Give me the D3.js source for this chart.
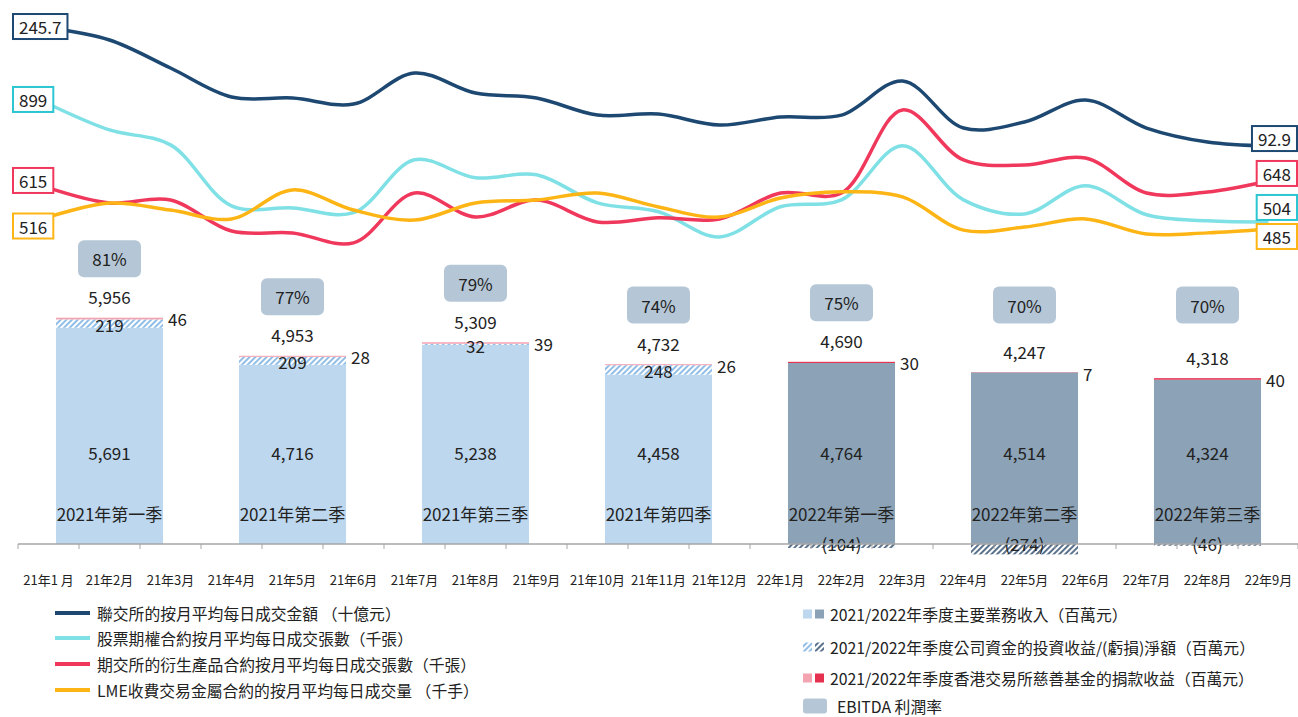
<!DOCTYPE html>
<html>
<head>
<meta charset="utf-8">
<script src="https://cdn.jsdelivr.net/npm/d3@7"></script>
<style>
  body { margin: 0; background: #fff; }
  svg { display: block; }
  text { font-family: "Noto Sans CJK TC", "Liberation Sans", sans-serif; fill: #222; }
</style>
</head>
<body>
<div id="chart"></div>
<script>
/* ---------- data ---------- */
const MONTHS = ["21年1 月","21年2月","21年3月","21年4月","21年5月","21年6月","21年7月","21年8月","21年9月",
                "21年10月","21年11月","21年12月","22年1月","22年2月","22年3月","22年4月","22年5月","22年6月",
                "22年7月","22年8月","22年9月"];
const QUARTERS = ["2021年第一季","2021年第二季","2021年第三季","2021年第四季","2022年第一季","2022年第二季","2022年第三季"];
const REVENUE  = [5691, 4716, 5238, 4458, 4764, 4514, 4324];
const INVEST   = [219, 209, 32, 248, -104, -274, -46];
const DONATION = [46, 28, 39, 26, 30, 7, 40];
const EBITDA   = [81, 77, 79, 74, 75, 70, 70];

const SEHK_ADT    = [245.7,230.2,193.9,156.4,155.1,147.3,187.4,161.5,155.1,133.0,134.3,120.1,130.5,133.0,177.1,116.2,124.0,152.5,116.2,98.1,92.9];
const OPTIONS_ADV = [899,812,762,558,551,535,712,652,662,568,538,454,555,578,759,578,531,625,528,508,504];
const HKFE_ADV    = [615,544,558,412,403,356,591,478,558,455,474,469,591,591,983,747,723,756,591,596,648];
const LME_ADV     = [516,552,534,511,586,534,508,552,560,578,542,516,565,581,568,482,490,511,472,475,485];

/* ---------- layout ---------- */
const W = 1298, H = 717, AXIS_Y = 544, X0 = 18, X1 = 1299;

const svg = d3.select("#chart").append("svg").attr("width", W).attr("height", H);
const defs = svg.append("defs");

function hatch(id, color){
  const p = defs.append("pattern").attr("id", id).attr("patternUnits", "userSpaceOnUse")
    .attr("width", 4).attr("height", 4).attr("patternTransform", "rotate(45)");
  p.append("rect").attr("width", 4).attr("height", 4).attr("fill", "#fff");
  p.append("line").attr("x1", 1).attr("y1", 0).attr("x2", 1).attr("y2", 4)
    .attr("stroke", color).attr("stroke-width", 1.6);
}
hatch("hatch21", "#74AEE0");
hatch("hatch22", "#2F4E6E");

const x  = d3.scaleBand().domain(MONTHS).range([X0, X1]);
const xq = d3.scaleBand().domain(QUARTERS).range([X0, X1]).paddingInner(0.415).paddingOuter(0.2075);
const yBar = d3.scaleLinear().domain([0, 6000]).range([AXIS_Y, 316]);

const COL = {
  rev:  q => q.startsWith("2022") ? "#8CA2B7" : "#BDD7EE",
  inv:  q => q.startsWith("2022") ? "url(#hatch22)" : "url(#hatch21)",
  don:  q => q.startsWith("2022") ? "#E5304F" : "#F4A3B1",
  box:  "#B5C7D6"
};

const quarters = QUARTERS.map((q, i) => ({
  q, rev: REVENUE[i], inv: INVEST[i], don: DONATION[i], ebitda: EBITDA[i],
  total: REVENUE[i] + INVEST[i] + DONATION[i]
}));

/* ---------- bars ---------- */
const gBar = svg.append("g");
const bw = xq.bandwidth();

quarters.forEach(d => {
  const bx = xq(d.q), cx = bx + bw / 2;
  const g = gBar.append("g");
  const posInv = Math.max(d.inv, 0);
  const top = yBar(d.rev + posInv + d.don);

  g.append("rect").attr("x", bx).attr("width", bw)
    .attr("y", yBar(d.rev)).attr("height", yBar(0) - yBar(d.rev)).attr("fill", COL.rev(d.q));

  if (d.inv >= 0) {
    g.append("rect").attr("x", bx).attr("width", bw)
      .attr("y", yBar(d.rev + d.inv)).attr("height", yBar(d.rev) - yBar(d.rev + d.inv)).attr("fill", COL.inv(d.q));
  } else {
    g.append("rect").attr("x", bx).attr("width", bw)
      .attr("y", yBar(0)).attr("height", yBar(d.inv) - yBar(0)).attr("fill", COL.inv(d.q));
  }

  g.append("rect").attr("x", bx).attr("width", bw)
    .attr("y", top).attr("height", yBar(d.rev + posInv) - top).attr("fill", COL.don(d.q));

  /* labels */
  const totalY = top - 21;
  const boxY = Math.min(totalY - 38, 305);
  g.append("rect").attr("x", cx - 31.5).attr("y", boxY - 18.5).attr("width", 63).attr("height", 37)
    .attr("rx", 6).attr("fill", COL.box);
  g.append("text").attr("x", cx).attr("y", boxY).attr("text-anchor", "middle")
    .attr("dominant-baseline", "central").style("font-size", "17px").text(d.ebitda + "%");

  g.append("text").attr("x", cx).attr("y", totalY).attr("text-anchor", "middle")
    .attr("dominant-baseline", "central").style("font-size", "17px").text(d3.format(",")(d.total));

  const invY = d.inv >= 0 ? (yBar(d.rev + d.inv) + yBar(d.rev)) / 2 + 1 : AXIS_Y - 1;
  g.append("text").attr("x", cx).attr("y", invY).attr("text-anchor", "middle")
    .attr("dominant-baseline", "central").style("font-size", "17px")
    .text(d.inv >= 0 ? d.inv : `(${-d.inv})`);

  g.append("text").attr("x", bx + bw + 5).attr("y", top + 1)
    .attr("dominant-baseline", "central").style("font-size", "17px").text(d.don);

  g.append("text").attr("x", cx).attr("y", 452).attr("text-anchor", "middle")
    .attr("dominant-baseline", "central").style("font-size", "17px").text(d3.format(",")(d.rev));

  g.append("text").attr("x", cx).attr("y", 513).attr("text-anchor", "middle")
    .attr("dominant-baseline", "central").style("font-size", "17px").text(d.q);
});

/* ---------- axis ---------- */
const gAx = svg.append("g");
gAx.append("line").attr("x1", X0).attr("x2", X1).attr("y1", AXIS_Y).attr("y2", AXIS_Y)
  .attr("stroke", "#A6A6A6").attr("stroke-width", 1.5);
gAx.selectAll("line.tick").data(MONTHS.concat(["end"])).enter().append("line").attr("class", "tick")
  .attr("x1", (m, i) => i < MONTHS.length ? x(m) : X1 - 1)
  .attr("x2", (m, i) => i < MONTHS.length ? x(m) : X1 - 1)
  .attr("y1", AXIS_Y).attr("y2", AXIS_Y + 5).attr("stroke", "#A6A6A6").attr("stroke-width", 1);
gAx.selectAll("text").data(MONTHS).enter().append("text")
  .attr("x", m => x(m) + x.bandwidth() / 2).attr("y", 579)
  .attr("text-anchor", "middle").attr("dominant-baseline", "central")
  .style("font-size", "13px").text(m => m);

/* ---------- lines ---------- */
const SERIES = [
  { name: "聯交所的按月平均每日成交金額 （十億元）", values: SEHK_ADT, color: "#1D4872", border: "#1D4872",
    y: d3.scaleLinear().domain([0, 250]).range([217.8, 24.7]), fmt: d3.format(".1f"), dyL: -1.5, dyR: -7.5 },
  { name: "股票期權合約按月平均每日成交張數（千張）", values: OPTIONS_ADV, color: "#7FE0E5", border: "#2CC5D2",
    y: d3.scaleLinear().domain([0, 1000]).range([372.5, 73.8]), fmt: d3.format("d"), dyL: -4.5, dyR: -14.5 },
  { name: "期交所的衍生產品合約按月平均每日成交張數（千張）", values: HKFE_ADV, color: "#F0385C", border: "#F0385C",
    y: d3.scaleLinear().domain([0, 1000]).range([318.4, 106.3]), fmt: d3.format("d"), dyL: -7.5, dyR: -7.5 },
  { name: "LME收費交易金屬合約的按月平均每日成交量 （千手）", values: LME_ADV, color: "#FDB515", border: "#FDB515",
    y: d3.scaleLinear().domain([0, 600]).range([416.7, 184.5]), fmt: d3.format("d"), dyL: 9, dyR: 7.5 }
];

const gLine = svg.append("g");
const mx = i => x(MONTHS[i]) + x.bandwidth() / 2;

SERIES.forEach(s => {
  const line = d3.line().x((v, i) => mx(i)).y(v => s.y(v)).curve(d3.curveCatmullRom.alpha(0.5));
  gLine.append("path").attr("d", line(s.values)).attr("fill", "none")
    .attr("stroke", s.color).attr("stroke-width", 3.5).attr("stroke-linejoin", "round");
});

function endLabel(s, idx, side, dy){
  const v = s.values[idx];
  const cy = s.y(v) + dy;
  const g = gLine.append("g");
  const t = g.append("text").attr("y", cy).attr("dominant-baseline", "central")
    .style("font-size", "17px").text(s.fmt(v));
  const tw = t.node().getComputedTextLength();
  const bwid = tw + 12, bx = side === "left" ? 13 : 1297 - bwid;
  g.insert("rect", "text").attr("x", bx).attr("y", cy - 12.5).attr("width", bwid).attr("height", 25)
    .attr("fill", "#fff").attr("stroke", s.border).attr("stroke-width", 2);
  t.attr("x", bx + 6);
}
SERIES.forEach(s => {
  endLabel(s, 0, "left", s.dyL);
  endLabel(s, s.values.length - 1, "right", s.dyR);
});

/* ---------- legends ---------- */
const gLeg = svg.append("g");
const LEFT_ROWS = [613, 638, 664, 690];
SERIES.forEach((s, i) => {
  gLeg.append("line").attr("x1", 55).attr("x2", 90).attr("y1", LEFT_ROWS[i]).attr("y2", LEFT_ROWS[i])
    .attr("stroke", s.color).attr("stroke-width", 4);
  gLeg.append("text").attr("x", 97).attr("y", LEFT_ROWS[i]).attr("dominant-baseline", "central")
    .style("font-size", "15.8px").text(s.name);
});

const RIGHT_LEG = [
  { text: "2021/2022年季度主要業務收入（百萬元）", fills: [COL.rev("2021"), COL.rev("2022")] },
  { text: "2021/2022年季度公司資金的投資收益/(虧損)淨額（百萬元）", fills: [COL.inv("2021"), COL.inv("2022")] },
  { text: "2021/2022年季度香港交易所慈善基金的捐款收益（百萬元）", fills: [COL.don("2021"), COL.don("2022")] }
];
const RIGHT_ROWS = [614, 647, 678, 706];
RIGHT_LEG.forEach((r, i) => {
  const y = RIGHT_ROWS[i];
  r.fills.forEach((f, j) => {
    gLeg.append("rect").attr("x", 803 + j * 12).attr("y", y - 4.5).attr("width", 9).attr("height", 9).attr("fill", f);
  });
  gLeg.append("text").attr("x", 830).attr("y", y).attr("dominant-baseline", "central")
    .style("font-size", "15.8px").text(r.text);
});
gLeg.append("rect").attr("x", 803).attr("y", RIGHT_ROWS[3] - 7.5).attr("width", 24).attr("height", 15)
  .attr("rx", 3).attr("fill", COL.box);
gLeg.append("text").attr("x", 837).attr("y", RIGHT_ROWS[3]).attr("dominant-baseline", "central")
  .style("font-size", "15.8px").text("EBITDA 利潤率");
</script>
</body>
</html>
